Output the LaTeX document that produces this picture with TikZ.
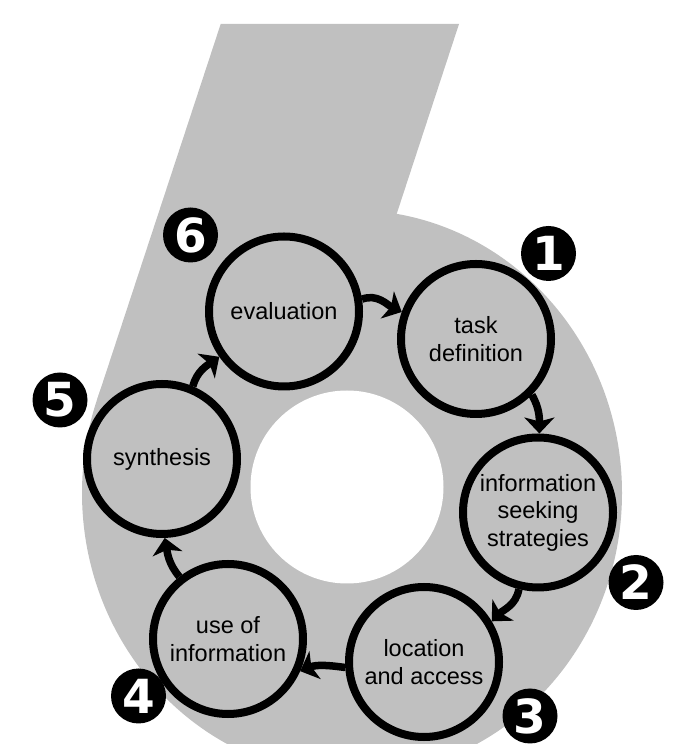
\documentclass[tikz,border=0pt]{standalone}
\usepackage{fontspec}
\setmainfont{Liberation Sans}
\newfontfamily\numfont{DejaVu Sans}
\usetikzlibrary{arrows.meta}
\definecolor{shapegray}{RGB}{192,192,192}
\begin{document}
\begin{tikzpicture}[x=1pt,y=1pt,
  stage/.style={circle, draw=black, line width=8pt, fill=shapegray, minimum size=150pt,
    inner sep=0pt, align=center, font=\fontsize{23.5}{27.5}\selectfont},
  numc/.style={circle, fill=black, text=white, minimum size=55pt, inner sep=0pt,
    font=\numfont\bfseries\fontsize{47}{47}\selectfont},
  arr/.style={line width=7.5pt, -{Stealth[length=16pt,width=30pt,inset=4pt]}}]
\useasboundingbox (0,0) rectangle (679,744);
\clip (0,0) rectangle (679,744);
% the big figure six
\fill[shapegray] (352,251) ellipse [x radius=270, y radius=283];
\fill[shapegray] (220.7,720) -- (459,720) -- (395,525) -- (352,251) -- (96.8,343.4) -- cycle;
\fill[white] (347,257) circle [radius=96.5];
% stages
\node[stage] (eval)  at (284,432.5) {evaluation};
\node[stage] (task)  at (476,405)   {task\\definition};
\node[stage] (info)  at (538,231.5) {information\\seeking\\strategies};
\node[stage] (loc)   at (424,82)    {location\\and access};
\node[stage] (use)   at (228,105)   {use of\\information};
\node[stage] (synth) at (162,285)   {synthesis};
% numbers
\node[numc] (n1) at (548.5,490.5) {1};
\node[numc] (n2) at (636,161.5)   {2};
\node[numc] (n3) at (530,28)      {3};
\node[numc] (n4) at (138.5,48)    {4};
\node[numc] (n5) at (60,344)      {5};
\node[numc] (n6) at (190.5,509)   {6};
% connectors
\draw[arr] (eval.9)    to[out=20,in=154]  (task.160);
\draw[arr] (task.-45)  to[out=-60,in=90]  (info.89);
\draw[arr] (info.-104) to[out=-100,in=45] (loc.31);
\draw[arr] (loc.184)   to[out=172,in=22]  (use.-24);
\draw[arr] (use.128)   to[out=130,in=-80] (synth.-88);
\draw[arr] (synth.67)  to[out=75,in=-145] (eval.-145);
\end{tikzpicture}
\end{document}
